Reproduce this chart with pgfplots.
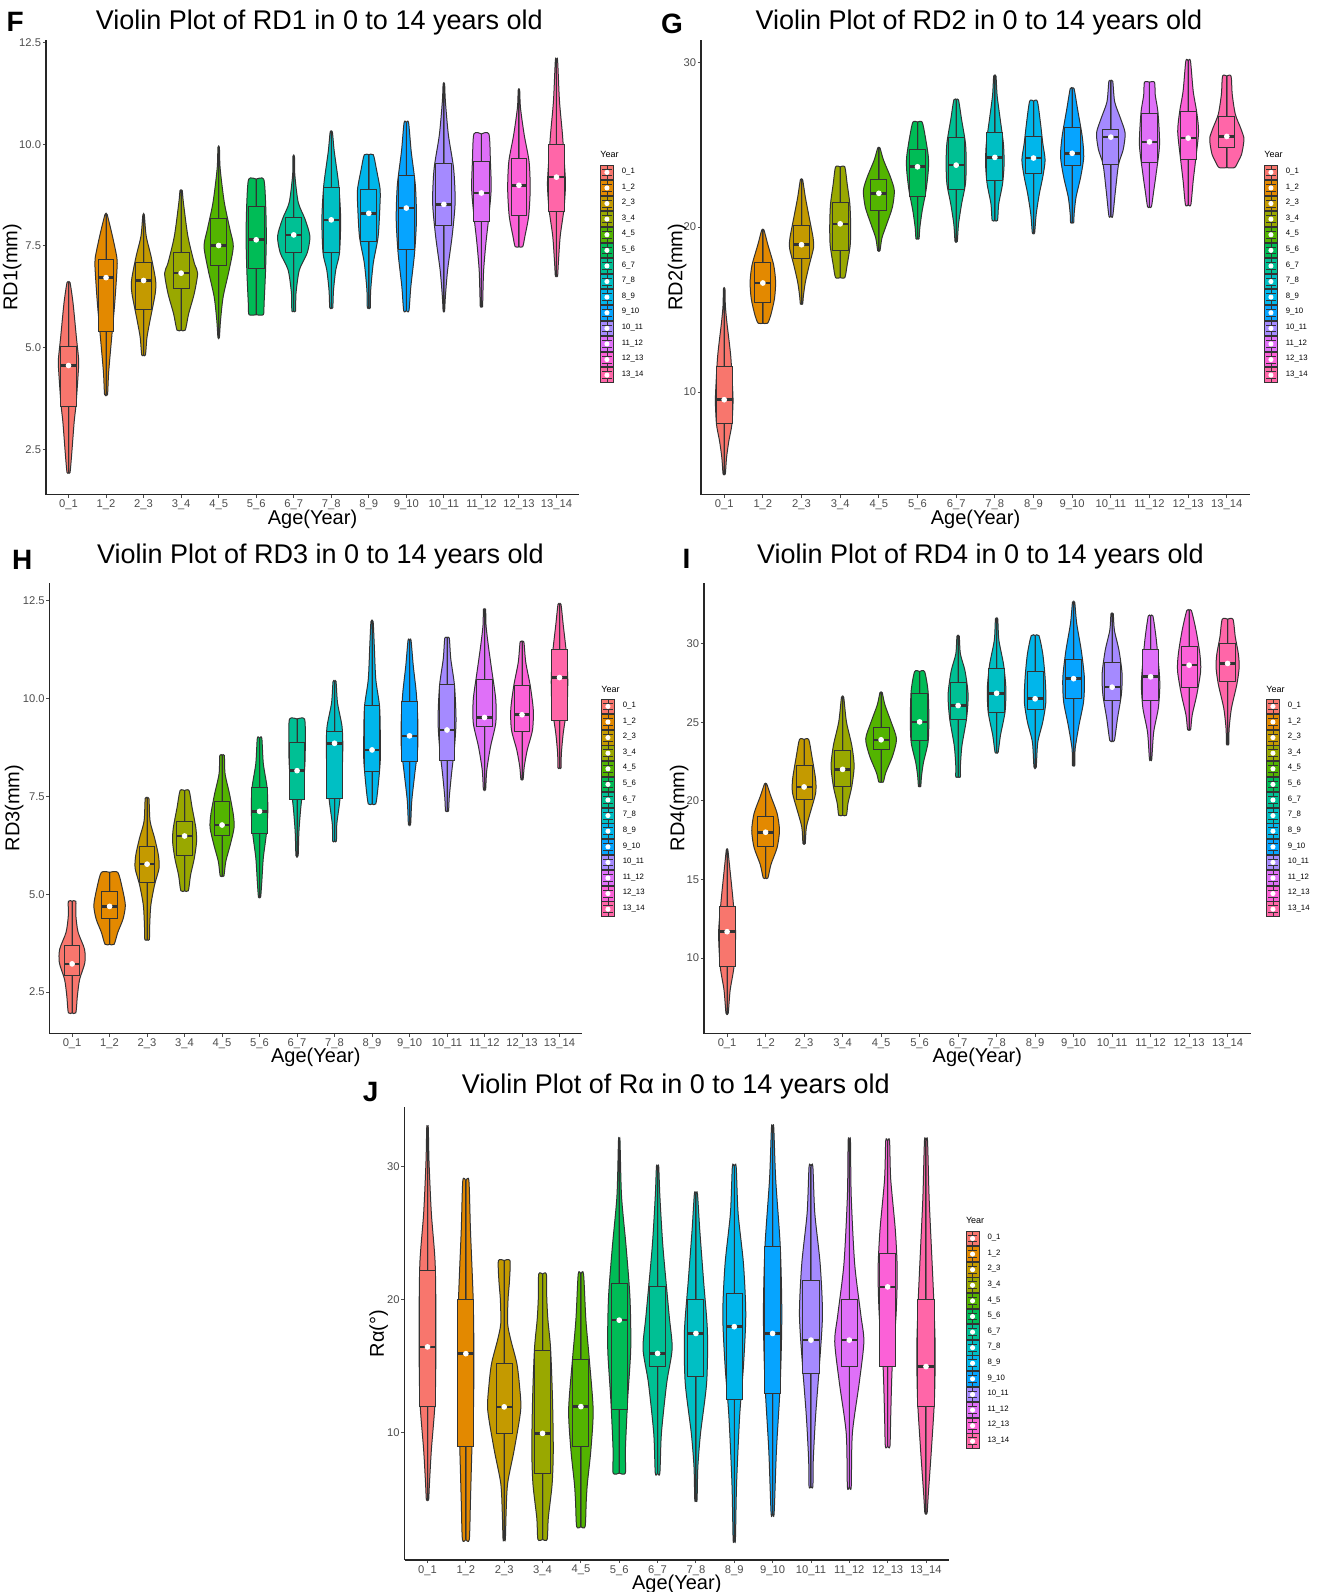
\documentclass[border=0pt]{standalone}
\usepackage{fontspec}
\setmainfont{Liberation Sans}
\usepackage{pgfplots}
\pgfplotsset{compat=1.18}
\usepgfplotslibrary{statistics}

% ggplot hue palette, 14 levels
\definecolor{c1}{HTML}{F8766D}
\definecolor{c2}{HTML}{E38900}
\definecolor{c3}{HTML}{C49A00}
\definecolor{c4}{HTML}{99A800}
\definecolor{c5}{HTML}{53B400}
\definecolor{c6}{HTML}{00BC56}
\definecolor{c7}{HTML}{00C094}
\definecolor{c8}{HTML}{00BFC4}
\definecolor{c9}{HTML}{00B6EB}
\definecolor{c10}{HTML}{06A4FF}
\definecolor{c11}{HTML}{A58AFF}
\definecolor{c12}{HTML}{DF70F8}
\definecolor{c13}{HTML}{FB61D7}
\definecolor{c14}{HTML}{FF66A8}
\definecolor{lc}{HTML}{333333}
\definecolor{tgray}{HTML}{4D4D4D}

\pgfplotsset{
  vio/.style={
    scale only axis, anchor=south west, clip=false,
    xmin=0.4, xmax=14.6,
    axis lines*=left,
    axis line style={line width=0.7pt, draw=black!85},
    xtick={1,...,14},
    xticklabels={0\_1,1\_2,2\_3,3\_4,4\_5,5\_6,6\_7,7\_8,8\_9,9\_10,10\_11,11\_12,12\_13,13\_14},
    tick align=outside, major tick length=1.6pt,
    tick style={line width=0.45pt, draw=black!70},
    ticklabel style={font=\fontsize{5.6}{6}\selectfont, text=tgray},
    xticklabel style={inner ysep=0.8pt},
    yticklabel style={inner xsep=0.7pt},
    xlabel={Age(Year)},
    label style={font=\fontsize{7.5}{9}\selectfont, inner sep=0pt},
    every axis x label/.style={at={(axis description cs:0.5,0)}, yshift=-12.4pt, anchor=center},
    legend cell align=left,
  },
  leg/.style={legend style={at={#1}, anchor=north west, draw=none, fill=none,
    inner sep=0pt, outer sep=0pt, row sep=0pt, column sep=4pt,
    font=\fontsize{3.9}{4}\selectfont, nodes={inner sep=0pt}}},
}

% one violin: position, colour, lower whisker, q1, median, q3, upper whisker, outline rows (y, half width)
\newcommand{\V}[8]{%
  \addplot[fill=#2, draw=lc, line width=0.5pt, smooth, tension=0.45]
    table[row sep=\\, x expr=#1+\thisrow{w}, y=y] {y w\\ #8} -- cycle;
  \addplot[fill=#2, draw=lc, line width=0.5pt, smooth, tension=0.45]
    table[row sep=\\, x expr=#1-\thisrow{w}, y=y] {y w\\ #8} -- cycle;
  \addplot[fill=#2, draw=lc, line width=0.5pt, boxplot/draw direction=y,
    boxplot prepared={draw position=#1, lower whisker=#3, lower quartile=#4,
      median=#5, upper quartile=#6, upper whisker=#7, box extend=0.42, whisker extend=0},
    boxplot/every median/.style={line width=1.3pt}] coordinates {};
  \addplot[only marks, mark=*, mark size=1.2pt, draw=white, fill=white] coordinates {(#1,#5)};
}

\newcommand{\key}[1]{\addlegendimage{legend image code/.code={%
  \fill[#1] (0pt,-3.675pt) rectangle (6.5pt,3.675pt);
  \draw[lc, line width=0.45pt] (0pt,-3.675pt) rectangle (6.5pt,3.675pt);
  \draw[lc, line width=0.4pt] (0.9pt,-1.7pt) -- (5.6pt,-1.7pt) (0.9pt,1.7pt) -- (5.6pt,1.7pt)
     (3.25pt,1.7pt) -- (3.25pt,3.675pt) (3.25pt,-1.7pt) -- (3.25pt,-3.675pt);
  \fill[white] (3.25pt,0pt) circle (1.05pt);}}}

\newcommand{\yearlegend}{%
  \key{c1}\addlegendentry{0\_1}
  \key{c2}\addlegendentry{1\_2}
  \key{c3}\addlegendentry{2\_3}
  \key{c4}\addlegendentry{3\_4}
  \key{c5}\addlegendentry{4\_5}
  \key{c6}\addlegendentry{5\_6}
  \key{c7}\addlegendentry{6\_7}
  \key{c8}\addlegendentry{7\_8}
  \key{c9}\addlegendentry{8\_9}
  \key{c10}\addlegendentry{9\_10}
  \key{c11}\addlegendentry{10\_11}
  \key{c12}\addlegendentry{11\_12}
  \key{c13}\addlegendentry{12\_13}
  \key{c14}\addlegendentry{13\_14}
}
\newcommand{\yeartitle}[2]{\node[anchor=west, inner sep=0pt, font=\fontsize{4.5}{5}\selectfont] at (axis description cs:#1,#2) {Year};}

\begin{document}
\begin{tikzpicture}
\path[use as bounding box] (0,0) rectangle (661pt,-796pt);

% ---------------- F ----------------
\begin{axis}[vio, at={(23pt,-247.25pt)}, width=266.5pt, height=227.25pt,
  ymin=1.39, ymax=12.56, ytick={2.5,5,7.5,10,12.5}, yticklabels={2.5,5.0,7.5,10.0,12.5},
  ylabel={RD1(mm)}, every axis y label/.style={at={(axis description cs:0,0.5)}, xshift=-16.9pt, rotate=90, anchor=center},
  leg={(1.0394,0.726)}]
\yearlegend
\V{1}{c1}{1.93}{3.56}{4.56}{5.02}{6.6}{1.93 0\\ 1.93 0.04\\ 2.33 0.08\\ 3.17 0.15\\ 3.6 0.2\\ 4.4 0.26\\ 4.7 0.27\\ 5.25 0.21\\ 6.1 0.12\\ 6.6 0.04\\ 6.6 0\\}
\V{2}{c2}{3.85}{5.39}{6.72}{7.16}{8.27}{3.85 0\\ 3.85 0.04\\ 4.4 0.07\\ 5.25 0.15\\ 6.08 0.23\\ 6.9 0.29\\ 7.2 0.29\\ 7.74 0.17\\ 8.27 0.03\\ 8.27 0\\}
\V{3}{c3}{4.82}{5.93}{6.65}{7.1}{8.26}{4.82 0\\ 4.82 0.05\\ 5.25 0.09\\ 5.66 0.17\\ 6.33 0.31\\ 6.66 0.32\\ 7.24 0.2\\ 7.74 0.07\\ 8.26 0.02\\ 8.26 0\\}
\V{4}{c4}{5.43}{6.45}{6.83}{7.35}{8.86}{5.43 0\\ 5.43 0.11\\ 5.83 0.2\\ 6.33 0.35\\ 6.83 0.44\\ 7.08 0.35\\ 7.74 0.18\\ 8.57 0.06\\ 8.86 0.03\\ 8.86 0\\}
\V{5}{c5}{5.25}{7.03}{7.51}{8.18}{9.92}{5.25 0\\ 5.25 0.02\\ 5.67 0.05\\ 6.25 0.12\\ 6.91 0.28\\ 7.49 0.39\\ 7.91 0.3\\ 8.57 0.15\\ 9.4 0.04\\ 9.92 0.02\\ 9.92 0\\}
\V{6}{c6}{5.81}{6.94}{7.65}{8.46}{9.14}{5.81 0\\ 5.81 0.19\\ 6.08 0.21\\ 6.91 0.25\\ 7.74 0.27\\ 8.57 0.25\\ 9.14 0.2\\ 9.14 0\\}
\V{7}{c7}{5.9}{7.33}{7.77}{8.21}{9.7}{5.9 0\\ 5.9 0.05\\ 6.33 0.06\\ 6.91 0.15\\ 7.33 0.36\\ 7.74 0.43\\ 8.16 0.3\\ 8.57 0.12\\ 9.24 0.03\\ 9.7 0.02\\ 9.7 0\\}
\V{8}{c8}{5.98}{7.34}{8.14}{8.94}{10.3}{5.98 0\\ 5.98 0.04\\ 6.41 0.06\\ 6.91 0.12\\ 7.33 0.22\\ 8.16 0.25\\ 8.99 0.2\\ 9.82 0.08\\ 10.3 0.03\\ 10.3 0\\}
\V{9}{c9}{5.98}{7.62}{8.3}{8.89}{9.74}{5.98 0\\ 5.98 0.04\\ 6.41 0.05\\ 7.08 0.12\\ 7.74 0.25\\ 8.57 0.3\\ 8.9 0.3\\ 9.4 0.2\\ 9.74 0.12\\ 9.74 0\\}
\V{10}{c10}{5.91}{7.4}{8.43}{9.22}{10.53}{5.91 0\\ 5.91 0.07\\ 6.5 0.12\\ 7.33 0.22\\ 8.16 0.27\\ 8.99 0.24\\ 9.82 0.13\\ 10.53 0.06\\ 10.53 0\\}
\V{11}{c11}{5.9}{8.01}{8.52}{9.53}{11.48}{5.9 0\\ 5.9 0.02\\ 6.25 0.04\\ 6.91 0.1\\ 7.74 0.22\\ 8.57 0.3\\ 9.4 0.26\\ 10.23 0.12\\ 11.06 0.04\\ 11.48 0.02\\ 11.48 0\\}
\V{12}{c12}{6.01}{8.11}{8.8}{9.58}{10.25}{6.01 0\\ 6.01 0.03\\ 6.33 0.04\\ 6.91 0.06\\ 7.57 0.12\\ 8.24 0.2\\ 8.9 0.26\\ 9.57 0.24\\ 10.25 0.2\\ 10.25 0\\}
\V{13}{c13}{7.48}{8.24}{8.99}{9.65}{11.33}{7.48 0\\ 7.48 0.1\\ 7.74 0.16\\ 8.24 0.26\\ 8.9 0.3\\ 9.57 0.27\\ 10.23 0.14\\ 10.9 0.04\\ 11.33 0.02\\ 11.33 0\\}
\V{14}{c14}{6.76}{8.34}{9.19}{9.98}{12.06}{6.76 0\\ 6.76 0.03\\ 7.08 0.05\\ 7.74 0.1\\ 8.41 0.2\\ 8.99 0.24\\ 9.4 0.22\\ 10.23 0.16\\ 11.06 0.08\\ 12.06 0.03\\ 12.06 0\\}
\yeartitle{1.0394}{0.7485}
\end{axis}

% ---------------- G ----------------
\begin{axis}[vio, at={(350.5pt,-247.25pt)}, width=274.5pt, height=227.25pt,
  ymin=3.78, ymax=31.35, ytick={10,20,30}, yticklabels={10,20,30},
  ylabel={RD2(mm)}, every axis y label/.style={at={(axis description cs:0,0.5)}, xshift=-11.85pt, rotate=90, anchor=center},
  leg={(1.0255,0.726)}]
\yearlegend
\V{1}{c1}{5.03}{8.09}{9.53}{11.54}{16.26}{5.03 0\\ 5.03 0.03\\ 6.0 0.06\\ 7.02 0.12\\ 8.05 0.2\\ 9.49 0.23\\ 10.1 0.22\\ 12.16 0.17\\ 14.21 0.07\\ 15.24 0.03\\ 16.26 0.02\\ 16.26 0\\}
\V{2}{c2}{14.17}{15.4}{16.61}{17.84}{19.82}{14.17 0\\ 14.17 0.12\\ 14.62 0.2\\ 15.65 0.3\\ 16.67 0.33\\ 17.7 0.28\\ 18.93 0.13\\ 19.82 0.03\\ 19.82 0\\}
\V{3}{c3}{15.34}{18.07}{18.93}{20.12}{22.87}{15.34 0\\ 15.34 0.03\\ 15.85 0.05\\ 16.67 0.1\\ 17.7 0.2\\ 18.73 0.31\\ 19.34 0.3\\ 20.57 0.2\\ 21.8 0.1\\ 22.87 0.03\\ 22.87 0\\}
\V{4}{c4}{16.94}{18.56}{20.2}{21.48}{23.65}{16.94 0\\ 16.94 0.12\\ 17.7 0.18\\ 18.93 0.26\\ 20.16 0.27\\ 21.4 0.25\\ 22.63 0.18\\ 23.65 0.12\\ 23.65 0\\}
\V{5}{c5}{18.58}{21.0}{22.05}{22.87}{24.8}{18.58 0\\ 18.58 0.03\\ 19.34 0.08\\ 20.16 0.2\\ 21.2 0.35\\ 22.22 0.4\\ 23.04 0.3\\ 24.07 0.12\\ 24.8 0.03\\ 24.8 0\\}
\V{6}{c6}{19.3}{21.87}{23.66}{24.72}{26.37}{19.3 0\\ 19.3 0.04\\ 19.96 0.06\\ 20.98 0.12\\ 22.22 0.22\\ 23.45 0.28\\ 24.27 0.28\\ 25.5 0.2\\ 26.37 0.12\\ 26.37 0\\}
\V{7}{c7}{19.14}{22.3}{23.76}{25.42}{27.72}{19.14 0\\ 19.14 0.03\\ 20.16 0.06\\ 21.4 0.14\\ 22.63 0.24\\ 23.86 0.26\\ 25.09 0.24\\ 26.53 0.14\\ 27.72 0.06\\ 27.72 0\\}
\V{8}{c8}{20.41}{22.83}{24.23}{25.71}{29.16}{20.41 0\\ 20.41 0.07\\ 21.4 0.1\\ 22.63 0.2\\ 23.86 0.24\\ 25.09 0.22\\ 26.53 0.14\\ 27.97 0.06\\ 29.16 0.03\\ 29.16 0\\}
\V{9}{c9}{19.65}{23.24}{24.19}{25.5}{27.64}{19.65 0\\ 19.65 0.03\\ 20.78 0.07\\ 22.01 0.15\\ 23.04 0.24\\ 24.07 0.3\\ 25.09 0.24\\ 26.32 0.18\\ 27.64 0.1\\ 27.64 0\\}
\V{10}{c10}{20.27}{23.72}{24.48}{26.02}{28.4}{20.27 0\\ 20.27 0.04\\ 20.78 0.05\\ 21.81 0.1\\ 23.04 0.22\\ 24.27 0.3\\ 25.5 0.26\\ 27.15 0.14\\ 28.4 0.05\\ 28.4 0\\}
\V{11}{c11}{20.68}{23.78}{25.46}{25.95}{28.85}{20.68 0\\ 20.68 0.05\\ 22.22 0.12\\ 23.8 0.2\\ 24.7 0.32\\ 25.7 0.37\\ 26.6 0.25\\ 27.6 0.1\\ 28.85 0.05\\ 28.85 0\\}
\V{12}{c12}{21.23}{23.94}{25.17}{26.92}{28.79}{21.23 0\\ 21.23 0.05\\ 22.2 0.11\\ 23.2 0.17\\ 25.0 0.26\\ 26.94 0.22\\ 28.0 0.15\\ 28.79 0.13\\ 28.79 0\\}
\V{13}{c13}{21.36}{24.11}{25.4}{27.0}{30.08}{21.36 0\\ 21.36 0.07\\ 22.8 0.13\\ 24.2 0.2\\ 25.8 0.27\\ 27.0 0.22\\ 28.26 0.13\\ 30.08 0.06\\ 30.08 0\\}
\V{14}{c14}{23.61}{24.85}{25.5}{26.69}{29.16}{23.61 0\\ 23.61 0.2\\ 24.0 0.3\\ 24.4 0.38\\ 25.0 0.43\\ 25.43 0.44\\ 26.0 0.36\\ 26.85 0.22\\ 28.06 0.14\\ 29.16 0.11\\ 29.16 0\\}
\yeartitle{1.0255}{0.7485}
\end{axis}

% ---------------- H ----------------
\begin{axis}[vio, at={(24.8pt,-516.75pt)}, width=266.2pt, height=225.5pt,
  ymin=1.44, ymax=12.97, ytick={2.5,5,7.5,10,12.5}, yticklabels={2.5,5.0,7.5,10.0,12.5},
  every axis x label/.style={at={(axis description cs:0.5,0)}, yshift=-12pt, anchor=center},
  ylabel={RD3(mm)}, every axis y label/.style={at={(axis description cs:0,0.5)}, xshift=-17.7pt, rotate=90, anchor=center},
  leg={(1.0357,0.7426)}]
\yearlegend
\V{1}{c1}{1.97}{2.92}{3.22}{3.68}{4.82}{1.97 0\\ 1.97 0.1\\ 2.39 0.14\\ 2.82 0.2\\ 3.25 0.34\\ 3.6 0.33\\ 4.03 0.16\\ 4.46 0.1\\ 4.82 0.1\\ 4.82 0\\}
\V{2}{c2}{3.72}{4.37}{4.69}{5.06}{5.56}{3.72 0\\ 3.72 0.12\\ 4.03 0.22\\ 4.37 0.36\\ 4.72 0.42\\ 5.15 0.34\\ 5.56 0.22\\ 5.56 0\\}
\V{3}{c3}{3.84}{5.29}{5.77}{6.21}{7.45}{3.84 0\\ 3.84 0.06\\ 4.2 0.07\\ 4.72 0.1\\ 5.24 0.2\\ 5.67 0.32\\ 6.01 0.3\\ 6.44 0.2\\ 6.87 0.08\\ 7.45 0.05\\ 7.45 0\\}
\V{4}{c4}{5.09}{5.99}{6.49}{6.87}{7.65}{5.09 0\\ 5.09 0.1\\ 5.49 0.16\\ 5.92 0.26\\ 6.35 0.32\\ 6.7 0.3\\ 7.22 0.2\\ 7.65 0.12\\ 7.65 0\\}
\V{5}{c5}{5.47}{6.51}{6.77}{7.37}{8.55}{5.47 0\\ 5.47 0.05\\ 5.84 0.1\\ 6.27 0.22\\ 6.7 0.32\\ 7.04 0.3\\ 7.56 0.2\\ 8.08 0.08\\ 8.55 0.06\\ 8.55 0\\}
\V{6}{c6}{4.93}{6.55}{7.12}{7.72}{8.99}{4.93 0\\ 4.93 0.03\\ 5.32 0.06\\ 5.93 0.1\\ 6.53 0.18\\ 7.13 0.22\\ 7.73 0.2\\ 8.34 0.1\\ 8.99 0.06\\ 8.99 0\\}
\V{7}{c7}{5.99}{7.43}{8.16}{8.88}{9.48}{5.99 0\\ 5.99 0.03\\ 6.6 0.05\\ 7.22 0.1\\ 7.73 0.16\\ 8.34 0.21\\ 8.94 0.22\\ 9.48 0.2\\ 9.48 0\\}
\V{8}{c8}{6.36}{7.44}{8.86}{9.16}{10.44}{6.36 0\\ 6.36 0.05\\ 6.79 0.06\\ 7.39 0.14\\ 8.08 0.2\\ 8.77 0.22\\ 9.29 0.2\\ 9.89 0.08\\ 10.44 0.04\\ 10.44 0\\}
\V{9}{c9}{7.31}{8.14}{8.69}{9.83}{11.97}{7.31 0\\ 7.31 0.1\\ 7.74 0.16\\ 8.43 0.22\\ 9.12 0.22\\ 9.81 0.2\\ 10.5 0.1\\ 11.36 0.06\\ 11.97 0.03\\ 11.97 0\\}
\V{10}{c10}{6.79}{8.39}{9.05}{9.94}{11.49}{6.79 0\\ 6.79 0.03\\ 7.39 0.06\\ 8.08 0.14\\ 8.77 0.22\\ 9.46 0.22\\ 10.15 0.18\\ 10.84 0.1\\ 11.49 0.04\\ 11.49 0\\}
\V{11}{c11}{7.13}{8.43}{9.2}{10.37}{11.55}{7.13 0\\ 7.13 0.04\\ 7.48 0.06\\ 8.08 0.12\\ 8.77 0.2\\ 9.46 0.24\\ 10.33 0.2\\ 11.02 0.1\\ 11.55 0.06\\ 11.55 0\\}
\V{12}{c12}{7.68}{9.29}{9.52}{10.48}{12.28}{7.68 0\\ 7.68 0.03\\ 8.17 0.06\\ 8.77 0.16\\ 9.38 0.3\\ 9.98 0.3\\ 10.68 0.2\\ 11.37 0.1\\ 11.88 0.04\\ 12.28 0.03\\ 12.28 0\\}
\V{13}{c13}{7.94}{9.17}{9.59}{10.34}{11.45}{7.94 0\\ 7.94 0.03\\ 8.26 0.06\\ 8.69 0.14\\ 9.2 0.28\\ 9.72 0.3\\ 10.33 0.22\\ 10.93 0.1\\ 11.45 0.05\\ 11.45 0\\}
\V{14}{c14}{8.23}{9.43}{10.54}{11.26}{12.41}{8.23 0\\ 8.23 0.04\\ 8.6 0.05\\ 9.12 0.1\\ 9.81 0.2\\ 10.5 0.22\\ 11.19 0.18\\ 11.88 0.1\\ 12.41 0.04\\ 12.41 0\\}
\yeartitle{1.0357}{0.763}
\end{axis}

% ---------------- I ----------------
\begin{axis}[vio, at={(352pt,-516.75pt)}, width=273.35pt, height=225.5pt,
  ymin=5.2, ymax=33.9, ytick={10,15,20,25,30}, yticklabels={10,15,20,25,30},
  every axis x label/.style={at={(axis description cs:0.5,0)}, yshift=-12pt, anchor=center},
  ylabel={RD4(mm)}, every axis y label/.style={at={(axis description cs:0,0.5)}, xshift=-12.35pt, rotate=90, anchor=center},
  leg={(1.028,0.7426)}]
\yearlegend
\V{1}{c1}{6.5}{9.44}{11.68}{13.26}{16.89}{6.5 0\\ 6.5 0.03\\ 7.97 0.08\\ 9.48 0.18\\ 11.64 0.22\\ 13.8 0.15\\ 15.96 0.06\\ 16.89 0.02\\ 16.89 0\\}
\V{2}{c2}{15.1}{17.08}{18.01}{19.03}{21.08}{15.1 0\\ 15.1 0.06\\ 15.96 0.14\\ 17.04 0.3\\ 18.12 0.36\\ 19.2 0.3\\ 20.28 0.14\\ 21.08 0.03\\ 21.08 0\\}
\V{3}{c3}{17.3}{20.06}{20.89}{22.27}{23.91}{17.3 0\\ 17.3 0.03\\ 18.34 0.06\\ 19.42 0.18\\ 20.5 0.3\\ 21.36 0.3\\ 22.87 0.2\\ 23.91 0.12\\ 23.91 0\\}
\V{4}{c4}{19.09}{20.93}{22.01}{23.24}{26.59}{19.09 0\\ 19.09 0.1\\ 19.85 0.14\\ 20.93 0.24\\ 22.22 0.3\\ 23.52 0.24\\ 25.03 0.1\\ 26.59 0.03\\ 26.59 0\\}
\V{5}{c5}{21.21}{23.26}{23.89}{24.69}{26.89}{21.21 0\\ 21.21 0.06\\ 21.79 0.12\\ 22.87 0.3\\ 23.95 0.4\\ 25.03 0.26\\ 26.11 0.1\\ 26.89 0.03\\ 26.89 0\\}
\V{6}{c6}{20.93}{23.84}{25.03}{26.83}{28.23}{20.93 0\\ 20.93 0.03\\ 21.58 0.05\\ 22.44 0.1\\ 23.74 0.22\\ 25.25 0.24\\ 26.98 0.22\\ 28.23 0.13\\ 28.23 0\\}
\V{7}{c7}{21.53}{25.21}{26.07}{27.54}{30.48}{21.53 0\\ 21.53 0.06\\ 22.22 0.06\\ 23.52 0.1\\ 25.25 0.22\\ 26.76 0.26\\ 28.27 0.18\\ 29.35 0.06\\ 30.48 0.03\\ 30.48 0\\}
\V{8}{c8}{23.09}{25.64}{26.85}{28.4}{31.58}{23.09 0\\ 23.09 0.04\\ 24.17 0.1\\ 25.68 0.22\\ 27.19 0.24\\ 28.7 0.18\\ 30.22 0.06\\ 31.58 0.03\\ 31.58 0\\}
\V{9}{c9}{22.16}{25.85}{26.5}{28.21}{30.52}{22.16 0\\ 22.16 0.03\\ 23.74 0.07\\ 25.03 0.2\\ 26.33 0.28\\ 27.84 0.26\\ 29.35 0.2\\ 30.52 0.1\\ 30.52 0\\}
\V{10}{c10}{22.27}{26.5}{27.78}{29.03}{32.63}{22.27 0\\ 22.27 0.03\\ 23.31 0.04\\ 24.82 0.14\\ 26.33 0.26\\ 27.84 0.28\\ 29.57 0.2\\ 31.3 0.08\\ 32.63 0.03\\ 32.63 0\\}
\V{11}{c11}{23.84}{26.41}{27.24}{28.83}{31.9}{23.84 0\\ 23.84 0.06\\ 25.25 0.14\\ 26.76 0.24\\ 28.06 0.26\\ 29.57 0.18\\ 30.86 0.06\\ 31.9 0.03\\ 31.9 0\\}
\V{12}{c12}{22.66}{26.41}{27.9}{29.65}{31.77}{22.66 0\\ 22.66 0.03\\ 24.38 0.08\\ 25.9 0.2\\ 27.41 0.24\\ 28.92 0.2\\ 30.43 0.14\\ 31.77 0.06\\ 31.77 0\\}
\V{13}{c13}{24.54}{27.21}{28.64}{29.85}{32.12}{24.54 0\\ 24.54 0.04\\ 25.46 0.08\\ 26.76 0.2\\ 28.27 0.3\\ 29.35 0.28\\ 30.86 0.18\\ 32.12 0.06\\ 32.12 0\\}
\V{14}{c14}{23.61}{27.62}{28.75}{30.0}{31.56}{23.61 0\\ 23.61 0.03\\ 24.6 0.04\\ 25.9 0.1\\ 27.41 0.24\\ 28.49 0.3\\ 29.35 0.28\\ 30.43 0.2\\ 31.56 0.14\\ 31.56 0\\}
\yeartitle{1.028}{0.763}
\end{axis}

% ---------------- J ----------------
\begin{axis}[vio, at={(202.25pt,-780pt)}, width=272.25pt, height=226.5pt,
  ymin=0.43, ymax=34.48, ytick={10,20,30}, yticklabels={10,20,30},
  every axis x label/.style={at={(axis description cs:0.5,0)}, yshift=-12pt, anchor=center},
  ylabel={Rα(°)}, every axis y label/.style={at={(axis description cs:0,0.5)}, xshift=-12.9pt, rotate=90, anchor=center},
  leg={(1.0305,0.727)}]
\yearlegend
\V{1}{c1}{4.96}{11.96}{16.45}{22.18}{32.93}{4.96 0\\ 4.96 0.03\\ 6.13 0.05\\ 8.68 0.1\\ 12.5 0.2\\ 17.59 0.22\\ 22.69 0.2\\ 26.51 0.1\\ 30.33 0.04\\ 32.93 0.02\\ 32.93 0\\}
\V{2}{c2}{1.98}{8.98}{15.94}{19.99}{28.93}{1.98 0\\ 1.98 0.09\\ 4.85 0.12\\ 8.98 0.16\\ 12.0 0.2\\ 16.0 0.21\\ 20.14 0.19\\ 25.24 0.12\\ 28.93 0.08\\ 28.93 0\\}
\V{3}{c3}{1.98}{9.95}{11.94}{15.22}{22.94}{1.98 0\\ 1.98 0.03\\ 4.0 0.05\\ 6.2 0.09\\ 8.7 0.26\\ 11.7 0.43\\ 13.5 0.4\\ 15.2 0.33\\ 17.0 0.17\\ 18.2 0.09\\ 20.0 0.1\\ 21.5 0.14\\ 22.94 0.15\\ 22.94 0\\}
\V{4}{c4}{1.98}{6.94}{9.95}{16.19}{21.92}{1.98 0\\ 1.98 0.12\\ 3.58 0.15\\ 6.13 0.25\\ 8.68 0.28\\ 12.5 0.26\\ 16.32 0.21\\ 18.5 0.14\\ 20.14 0.11\\ 21.92 0.1\\ 21.92 0\\}
\V{5}{c5}{2.94}{8.98}{11.96}{15.48}{21.92}{2.94 0\\ 2.94 0.11\\ 4.85 0.14\\ 6.2 0.17\\ 8.68 0.26\\ 11.7 0.32\\ 15.5 0.22\\ 18.5 0.13\\ 21.92 0.07\\ 21.92 0\\}
\V{6}{c6}{6.97}{11.73}{18.46}{21.21}{31.94}{6.97 0\\ 6.97 0.16\\ 8.68 0.16\\ 12.5 0.22\\ 16.32 0.3\\ 20.14 0.28\\ 23.96 0.18\\ 27.78 0.06\\ 31.94 0.02\\ 31.94 0\\}
\V{7}{c7}{6.97}{14.97}{15.96}{20.98}{30.0}{6.97 0\\ 6.97 0.06\\ 9.95 0.1\\ 13.77 0.24\\ 16.32 0.38\\ 18.87 0.3\\ 23.96 0.14\\ 27.78 0.06\\ 30.0 0.03\\ 30.0 0\\}
\V{8}{c8}{4.96}{14.2}{17.46}{19.99}{27.96}{4.96 0\\ 4.96 0.03\\ 7.41 0.05\\ 9.95 0.12\\ 13.77 0.28\\ 17.59 0.3\\ 21.4 0.2\\ 25.24 0.1\\ 27.96 0.04\\ 27.96 0\\}
\V{9}{c9}{1.98}{12.5}{17.97}{20.45}{30.0}{1.98 0\\ 1.98 0.03\\ 6.13 0.06\\ 11.22 0.14\\ 15.04 0.24\\ 18.87 0.3\\ 22.69 0.24\\ 26.51 0.1\\ 30.0 0.05\\ 30.0 0\\}
\V{10}{c10}{3.96}{12.96}{17.46}{23.99}{32.93}{3.96 0\\ 3.96 0.04\\ 8.68 0.1\\ 13.77 0.2\\ 18.87 0.24\\ 23.96 0.2\\ 29.06 0.08\\ 32.93 0.03\\ 32.93 0\\}
\V{11}{c11}{5.95}{14.48}{16.96}{21.46}{30.0}{5.95 0\\ 5.95 0.05\\ 7.91 0.06\\ 11.22 0.12\\ 15.04 0.22\\ 18.87 0.3\\ 22.69 0.24\\ 26.51 0.1\\ 30.0 0.05\\ 30.0 0\\}
\V{12}{c12}{5.95}{14.97}{16.96}{19.99}{31.94}{5.95 0\\ 5.95 0.05\\ 9.95 0.08\\ 13.77 0.26\\ 16.83 0.38\\ 18.87 0.3\\ 22.69 0.14\\ 27.78 0.05\\ 31.94 0.03\\ 31.94 0\\}
\V{13}{c13}{8.98}{14.97}{20.96}{23.45}{31.94}{8.98 0\\ 8.98 0.06\\ 11.22 0.08\\ 15.04 0.12\\ 18.87 0.22\\ 22.18 0.25\\ 25.24 0.2\\ 29.06 0.08\\ 31.94 0.05\\ 31.94 0\\}
\V{14}{c14}{3.96}{11.96}{14.97}{19.99}{31.94}{3.96 0\\ 3.96 0.03\\ 5.36 0.06\\ 8.68 0.14\\ 12.5 0.22\\ 16.32 0.24\\ 20.14 0.2\\ 23.96 0.14\\ 27.78 0.08\\ 31.94 0.04\\ 31.94 0\\}
\yeartitle{1.0305}{0.7494}
\end{axis}

% titles and panel letters
\node[font=\fontsize{13.5}{16}\selectfont] at (159.65pt,-11.15pt) {Violin Plot of RD1 in 0 to 14 years old};
\node[font=\fontsize{13.5}{16}\selectfont] at (489.45pt,-11.15pt) {Violin Plot of RD2 in 0 to 14 years old};
\node[font=\fontsize{13.5}{16}\selectfont] at (160.2pt,-278.2pt) {Violin Plot of RD3 in 0 to 14 years old};
\node[font=\fontsize{13.5}{16}\selectfont] at (490.2pt,-278.2pt) {Violin Plot of RD4 in 0 to 14 years old};
\node[font=\fontsize{13.5}{16}\selectfont] at (337.85pt,-543.25pt) {Violin Plot of Rα in 0 to 14 years old};
\node[font=\bfseries\fontsize{14}{16}\selectfont] at (7.6pt,-11.15pt) {F};
\node[font=\bfseries\fontsize{14}{16}\selectfont] at (336pt,-12pt) {G};
\node[font=\bfseries\fontsize{14}{16}\selectfont] at (11.15pt,-279.75pt) {H};
\node[font=\bfseries\fontsize{14}{16}\selectfont] at (343.2pt,-279.5pt) {I};
\node[font=\bfseries\fontsize{14}{16}\selectfont] at (185.3pt,-545.8pt) {J};
\end{tikzpicture}
\end{document}
